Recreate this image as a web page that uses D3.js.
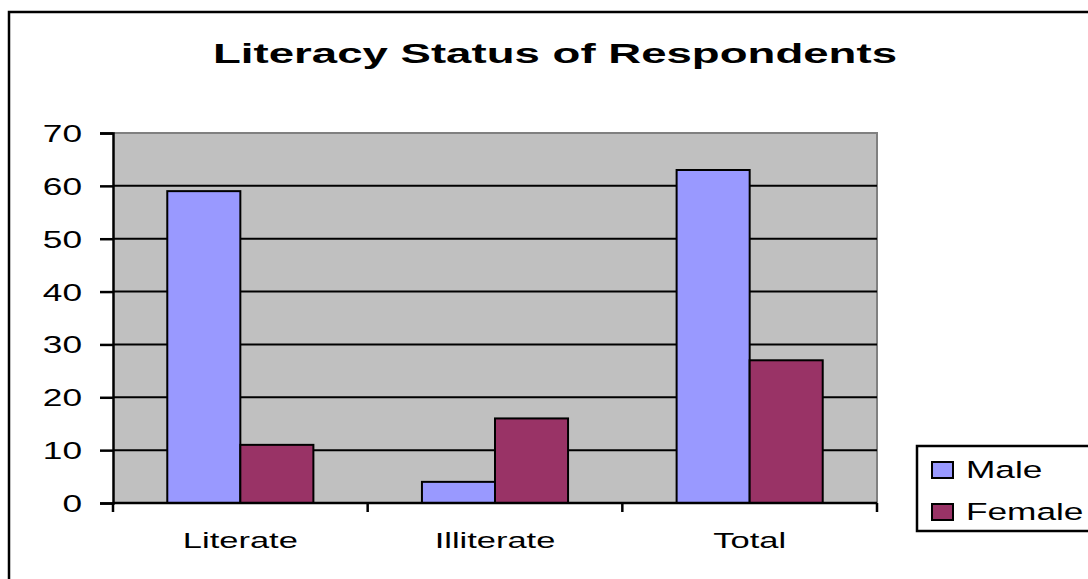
<!DOCTYPE html>
<html>
<head>
<meta charset="utf-8">
<script src="https://cdn.jsdelivr.net/npm/d3@7"></script>
<style>
  html, body { margin: 0; padding: 0; background: #fff; }
  svg { display: block; font-family: Arial, "Liberation Sans", sans-serif; }
</style>
</head>
<body>
<svg id="chart" width="1088" height="579"></svg>
<script>
const title = "Literacy Status of Respondents";
const categories = ["Literate", "Illiterate", "Total"];
const seriesNames = ["Male", "Female"];
const maleValues = [59, 4, 63];
const femaleValues = [11, 16, 27];
const yTicks = [0, 10, 20, 30, 40, 50, 60, 70];
const colors = { Male: "#9999FF", Female: "#993366" };

const values = { Male: maleValues, Female: femaleValues };
const svg = d3.select("#chart");
const W = 1088, H = 579;
const plot = { left: 113, right: 877, top: 133, bottom: 503 };
const SX = 1.5; // horizontal text stretch seen in the reference

// outer frame
svg.append("rect").attr("x", 9).attr("y", 12).attr("width", 1100).attr("height", 600)
  .attr("fill", "#fff").attr("stroke", "#000").attr("stroke-width", 2.5);

// title
svg.append("text")
  .attr("transform", `translate(555,63) scale(1.6,1)`)
  .attr("text-anchor", "middle")
  .attr("font-size", 28.5).attr("font-weight", "bold").attr("fill", "#000")
  .text(title);

const x0 = d3.scaleBand().domain(categories).range([plot.left, plot.right]).padding(0);
const x1 = d3.scaleBand().domain(seriesNames).range([0, x0.bandwidth()]).paddingInner(0).paddingOuter(0.743);
const y = d3.scaleLinear().domain([0, 70]).range([plot.bottom, plot.top]);

// plot background
svg.append("rect").attr("x", plot.left).attr("y", plot.top)
  .attr("width", plot.right - plot.left).attr("height", plot.bottom - plot.top)
  .attr("fill", "#C0C0C0");

// gray top/right frame
svg.append("path")
  .attr("d", `M${plot.left},${plot.top}H${plot.right}V${plot.bottom}`)
  .attr("fill", "none").attr("stroke", "#808080").attr("stroke-width", 2);

// gridlines
svg.append("g").selectAll("line").data(yTicks.filter(t => t > 0 && t < 70)).join("line")
  .attr("x1", plot.left).attr("x2", plot.right)
  .attr("y1", d => y(d)).attr("y2", d => y(d))
  .attr("stroke", "#000").attr("stroke-width", 2);

// bars
const groups = svg.append("g").selectAll("g").data(categories).join("g")
  .attr("transform", d => `translate(${x0(d)},0)`);
groups.selectAll("rect").data((c, i) => seriesNames.map(s => ({ s, v: values[s][i] }))).join("rect")
  .attr("x", d => x1(d.s)).attr("width", x1.bandwidth())
  .attr("y", d => y(d.v)).attr("height", d => y(0) - y(d.v))
  .attr("fill", d => colors[d.s]).attr("stroke", "#000").attr("stroke-width", 2);

// y axis
const yAxis = d3.axisLeft(y).tickValues(yTicks).tickSize(13).tickPadding(18).tickFormat(d3.format("d"));
const gy = svg.append("g").attr("transform", `translate(${plot.left},0)`).call(yAxis);
gy.select(".domain").attr("stroke", "#000").attr("stroke-width", 2.5);
gy.selectAll(".tick line").attr("stroke", "#000").attr("stroke-width", 2.5);
gy.selectAll(".tick text").attr("font-size", 23.5).attr("fill", "#000")
  .attr("font-family", "Arial, 'Liberation Sans', sans-serif")
  .attr("dy", "0.36em")
  .each(function () {
    const t = d3.select(this);
    const xx = +t.attr("x");
    t.attr("x", null).attr("transform", `translate(${xx},0) scale(${SX},1)`);
  });

// x axis
svg.append("line").attr("x1", plot.left).attr("x2", plot.right)
  .attr("y1", plot.bottom).attr("y2", plot.bottom)
  .attr("stroke", "#000").attr("stroke-width", 2.5);
const bounds = categories.map(c => x0(c)).concat([plot.right]);
svg.append("g").selectAll("line").data(bounds).join("line")
  .attr("x1", d => d).attr("x2", d => d)
  .attr("y1", plot.bottom).attr("y2", plot.bottom + 9)
  .attr("stroke", "#000").attr("stroke-width", 2.5);
svg.append("g").selectAll("text").data(categories).join("text")
  .attr("transform", d => `translate(${x0(d) + x0.bandwidth() / 2},548) scale(${SX},1)`)
  .attr("text-anchor", "middle").attr("font-size", 23).attr("fill", "#000")
  .text(d => d);

// legend
const lg = svg.append("g");
lg.append("rect").attr("x", 917).attr("y", 446).attr("width", 200).attr("height", 85)
  .attr("fill", "#fff").attr("stroke", "#000").attr("stroke-width", 2.5);
const legY = [470, 512];
seriesNames.forEach((s, i) => {
  lg.append("rect").attr("x", 932).attr("y", legY[i] - 8).attr("width", 21).attr("height", 16)
    .attr("fill", colors[s]).attr("stroke", "#000").attr("stroke-width", 2);
  lg.append("text")
    .attr("transform", `translate(966,${legY[i] + 8}) scale(${SX},1)`)
    .attr("font-size", 23.5).attr("fill", "#000").text(s);
});
</script>
</body>
</html>
